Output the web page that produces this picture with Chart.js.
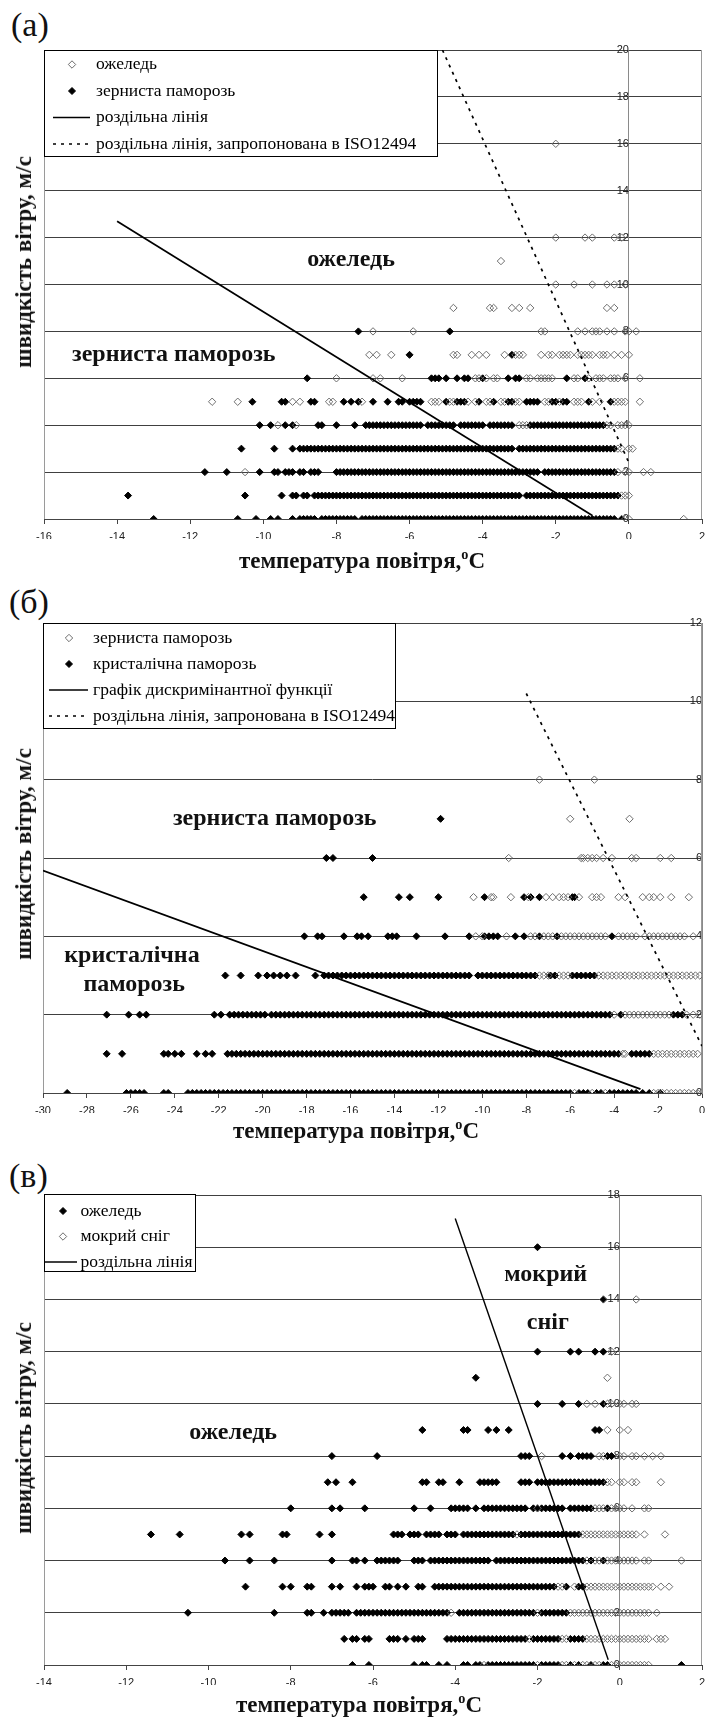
<!DOCTYPE html>
<html lang="uk">
<head>
<meta charset="UTF-8">
<title>Швидкість вітру та температура повітря</title>
<script src="https://cdn.jsdelivr.net/npm/chart.js"></script>
<style>
  body { margin: 0; background: #fff; }
  #page { position: relative; width: 707px; height: 1718px; overflow: hidden;
          font-family: 'Liberation Serif', 'Times New Roman', serif; color: #111; }
  canvas { position: absolute; left: 0; }
  .tag { position: absolute; font-size: 34px; line-height: 34px; }
  .xtitle { position: absolute; font-size: 23px; font-weight: bold; line-height: 26px;
            transform: translateX(-50%); white-space: nowrap; }
  .ytitle { position: absolute; left: 24px; font-size: 23px; font-weight: bold; line-height: 26px;
            transform: translate(-50%, -50%) rotate(-90deg); white-space: nowrap; }
  sup { font-size: 62%; line-height: 0; }
</style>
</head>
<body>
<div id="page">
  <div class="tag" style="left:11px; top:8px">(а)</div>
  <canvas id="chartA" width="707" height="580" style="top:0"></canvas>
  <div class="xtitle" style="left:362px; top:548px">температура повітря,<sup>o</sup>C</div>
  <div class="ytitle" style="top:262px">швидкість вітру, м/с</div>

  <div class="tag" style="left:9px; top:585px">(б)</div>
  <canvas id="chartB" width="707" height="570" style="top:580px"></canvas>
  <div class="xtitle" style="left:356px; top:1118px">температура повітря,<sup>o</sup>C</div>
  <div class="ytitle" style="top:854px">швидкість вітру, м/с</div>

  <div class="tag" style="left:9px; top:1159px">(в)</div>
  <canvas id="chartC" width="707" height="568" style="top:1150px"></canvas>
  <div class="xtitle" style="left:359px; top:1692px">температура повітря,<sup>o</sup>C</div>
  <div class="ytitle" style="top:1428px">швидкість вітру, м/с</div>
</div>

<script>
    // (а) ожеледь vs зерниста паморозь: temperatures observed at each wind speed
    const aSpeeds = [0, 1, 2, 3, 4, 5, 6, 7, 8, 9, 10, 11, 12, 13, 14, 15, 16];
    const aGlaze = [
        [-0.2, -0.1, 0, 1.5],
        [-0.2, -0.1, 0],
        [-10.5, -0.3, -0.1, 0, 0.4, 0.6],
        [-0.3, -0.2, 0, 0.1],
        [-9.6, -9.1, -3, -2.9, -2.8, -0.6, -0.5, -0.3, -0.2, -0.1, 0],
        [-11.4, -10.7, -9.2, -9, -8.2, -8.1, -7.3, -5.4, -5.3, -5.2, -4.9, -4.8, -4.4, -4.2, -3.9, -3.8, -3.5, -3.4, -3.1, -3, -2.3, -2.2, -1.9, -1.5, -1.4, -1.3, -1, -0.8, -0.4, -0.3, -0.2, -0.1, 0.3],
        [-8, -7, -6.8, -6.2, -4.2, -4.1, -3.9, -3.7, -3.6, -2.8, -2.7, -2.5, -2.4, -2.3, -2.2, -2.1, -1.5, -1.4, -1.1, -0.9, -0.8, -0.7, -0.5, -0.4, -0.3, -0.1, 0.3],
        [-7.1, -6.9, -6.5, -4.8, -4.7, -4.3, -4.1, -3.9, -3.4, -3.1, -3, -2.9, -2.4, -2.2, -2.1, -1.9, -1.8, -1.7, -1.6, -1.4, -1.3, -1.2, -1.1, -1, -0.8, -0.7, -0.6, -0.4, -0.2, 0],
        [-7, -5.9, -2.4, -2.3, -1.4, -1.2, -1, -0.9, -0.8, -0.6, -0.4, -0.1, 0, 0.2],
        [-4.8, -3.8, -3.7, -3.2, -3, -2.7, -0.6, -0.4],
        [-2, -1.5, -1, -0.6, -0.4, -0.1],
        [-3.5],
        [-2, -1.2, -1, -0.4, -0.2],
        [], [], [],
        [-2]
    ];
    const aRime = [
        [-13, -10.7, -10.2, -9.8, -9.6, -9.2, -9, -8.9, -8.8, -8.7, -8.6, -8.4, -8.3, -8.2, -8.1, -8, -7.9, -7.8, -7.7, -7.6, -7.5, -7.3, -7.2, -7.1, -7, -6.9, -6.8, -6.7, -6.6, -6.5, -6.4, -6.3, -6.2, -6.1, -6, -5.9, -5.8, -5.7, -5.6, -5.5, -5.4, -5.3, -5.2, -5.1, -5, -4.9, -4.8, -4.7, -4.6, -4.5, -4.4, -4.3, -4.2, -4.1, -4, -3.9, -3.8, -3.7, -3.6, -3.5, -3.4, -3.3, -3.2, -3.1, -3, -2.9, -2.8, -2.7, -2.6, -2.5, -2.4, -2.3, -2.2, -2.1, -2, -1.9, -1.8, -1.7, -1.6, -1.5, -1.4, -1.3, -1.2, -1.1, -1, -0.9, -0.8, -0.7, -0.6, -0.5, -0.4, -0.2],
        [-13.7, -10.5, -9.5, -9.2, -9.1, -8.9, -8.8, -8.6, -8.5, -8.4, -8.3, -8.2, -8.1, -8, -7.9, -7.8, -7.7, -7.6, -7.5, -7.4, -7.3, -7.2, -7.1, -7, -6.9, -6.8, -6.7, -6.6, -6.5, -6.4, -6.3, -6.2, -6.1, -6, -5.9, -5.8, -5.7, -5.6, -5.5, -5.4, -5.3, -5.2, -5.1, -5, -4.9, -4.8, -4.7, -4.6, -4.5, -4.4, -4.3, -4.2, -4.1, -4, -3.9, -3.8, -3.7, -3.6, -3.5, -3.4, -3.3, -3.2, -3.1, -3, -2.8, -2.7, -2.6, -2.5, -2.4, -2.3, -2.2, -2.1, -2, -1.9, -1.8, -1.7, -1.6, -1.5, -1.4, -1.3, -1.2, -1.1, -1, -0.9, -0.8, -0.7, -0.6, -0.5, -0.4, -0.3],
        [-11.6, -11, -10.1, -9.7, -9.6, -9.4, -9.3, -9.2, -9, -8.9, -8.7, -8.6, -8.5, -8, -7.9, -7.8, -7.7, -7.6, -7.5, -7.4, -7.3, -7.2, -7.1, -7, -6.9, -6.8, -6.7, -6.6, -6.5, -6.4, -6.3, -6.2, -6.1, -6, -5.9, -5.8, -5.7, -5.6, -5.5, -5.4, -5.3, -5.2, -5.1, -5, -4.9, -4.8, -4.7, -4.6, -4.5, -4.4, -4.3, -4.2, -4.1, -4, -3.9, -3.8, -3.7, -3.6, -3.5, -3.4, -3.3, -3.2, -3.1, -3, -2.9, -2.8, -2.7, -2.6, -2.5, -2.3, -2.2, -2.1, -2, -1.9, -1.8, -1.7, -1.6, -1.5, -1.4, -1.3, -1.2, -1.1, -1, -0.9, -0.8, -0.7, -0.6, -0.5, -0.4],
        [-10.6, -9.7, -9.2, -9, -8.9, -8.8, -8.7, -8.6, -8.5, -8.4, -8.3, -8.2, -8.1, -8, -7.9, -7.8, -7.7, -7.6, -7.5, -7.4, -7.3, -7.2, -7.1, -7, -6.9, -6.8, -6.7, -6.6, -6.5, -6.4, -6.3, -6.2, -6.1, -6, -5.9, -5.8, -5.7, -5.6, -5.5, -5.4, -5.3, -5.2, -5.1, -5, -4.9, -4.8, -4.7, -4.6, -4.5, -4.4, -4.3, -4.2, -4.1, -4, -3.9, -3.8, -3.7, -3.6, -3.5, -3.4, -3.3, -3.2, -3, -2.9, -2.8, -2.7, -2.6, -2.5, -2.4, -2.3, -2.2, -2.1, -2, -1.9, -1.8, -1.7, -1.6, -1.5, -1.4, -1.3, -1.2, -1.1, -1, -0.9, -0.8, -0.7, -0.6, -0.5, -0.4],
        [-10.1, -9.8, -9.4, -9.2, -8.5, -8.4, -8, -7.5, -7.2, -7.1, -7, -6.9, -6.8, -6.7, -6.6, -6.5, -6.4, -6.3, -6.2, -6.1, -6, -5.9, -5.8, -5.7, -5.5, -5.4, -5.3, -5.2, -5.1, -5, -4.9, -4.8, -4.6, -4.5, -4.4, -4.3, -4.2, -4.1, -4, -3.8, -3.7, -3.6, -3.5, -3.4, -3.3, -3.2, -2.7, -2.6, -2.5, -2.4, -2.3, -2.2, -2.1, -2, -1.9, -1.8, -1.7, -1.6, -1.5, -1.4, -1.3, -1.2, -1.1, -1, -0.9, -0.8, -0.7],
        [-10.3, -9.5, -9.4, -8.7, -8.6, -7.8, -7.6, -7.4, -7, -6.6, -6.3, -6.2, -6, -5.9, -5.8, -5.7, -5, -4.7, -4.6, -4.5, -4.1, -3.7, -3.3, -3.2, -2.8, -2.7, -2.6, -2.5, -2.1, -2, -1.8, -1.7, -1.1, -0.5],
        [-8.8, -5.4, -5.3, -5.2, -5, -4.7, -4.5, -4.4, -4, -3.3, -3.1, -3, -1.7, -1.2],
        [-6, -3.2],
        [-7.4, -4.9]
    ];
    const aSplitT = [-14, -1];
    const aSplitV = [12.7, 0.15];
    const aIsoT = [-5.1, 0];
    const aIsoV = [20, 2.4];

    // (б) зерниста vs кристалічна паморозь
    const bSpeeds = [0, 1, 2, 3, 4, 5, 6, 7, 8];
    const bGranular = [
        [-5.8, -5, -4.4, -2.2, -2, -1.8, -1.6, -1.4, -1.2, -1, -0.8, -0.6, -0.4, -0.2, 0],
        [-3.6, -3.5, -2.2, -2, -1.8, -1.6, -1.4, -1.2, -1, -0.8, -0.6, -0.4, -0.2],
        [-4, -3.5, -3.3, -3.1, -2.9, -2.7, -2.5, -2.3, -2.1, -1.9, -1.7, -1.5, -0.7, -0.4, -0.1],
        [-7.4, -7.2, -7, -6.5, -6.3, -6.1, -4.7, -4.5, -4.3, -4.1, -3.9, -3.7, -3.5, -3.3, -3.1, -2.9, -2.7, -2.5, -2.3, -2.1, -1.9, -1.7, -1.5, -1.3, -1.1, -0.9, -0.7, -0.5, -0.3, -0.1],
        [-10.3, -10, -8.9, -7.8, -7.6, -7.2, -7, -6.8, -6.4, -6.2, -6, -5.8, -5.6, -5.4, -5.2, -5, -4.8, -4.6, -4.4, -3.8, -3.6, -3.4, -3.2, -3, -2.6, -2.4, -2.2, -2, -1.8, -1.6, -1.4, -1.2, -1, -0.8, -0.4],
        [-10.4, -9.6, -9.5, -8.7, -7.9, -7.1, -6.8, -6.5, -6.3, -6.1, -5.6, -5, -4.8, -4.6, -3.8, -3.5, -2.7, -2.4, -2.2, -1.9, -1.4, -0.6],
        [-8.8, -5.5, -5.4, -5.2, -5, -4.8, -4.5, -4.1, -3.2, -3, -1.9, -1.4],
        [-6, -3.3],
        [-7.4, -4.9]
    ];
    const bCrystal = [
        [-28.9, -26.2, -26, -25.8, -25.6, -25.4, -24.5, -24.3, -23.4, -23.2, -23, -22.8, -22.6, -22.4, -22.2, -22, -21.8, -21.6, -21.4, -21.2, -21, -20.8, -20.6, -20.4, -20.2, -20, -19.8, -19.6, -19.4, -19.2, -19, -18.8, -18.6, -18.4, -18.2, -18, -17.8, -17.6, -17.4, -17.2, -17, -16.8, -16.6, -16.4, -16.2, -16, -15.8, -15.6, -15.4, -15.2, -15, -14.8, -14.6, -14.4, -14.2, -14, -13.8, -13.6, -13.4, -13.2, -13, -12.8, -12.6, -12.4, -12.2, -12, -11.8, -11.6, -11.4, -11.2, -11, -10.8, -10.6, -10.4, -10.2, -10, -9.8, -9.6, -9.4, -9.2, -9, -8.8, -8.6, -8.4, -8.2, -8, -7.8, -7.6, -7.4, -7.2, -7, -6.8, -6.6, -6.4, -6.2, -6, -5.6, -5.4, -5.2, -4.8, -4.6, -4.2, -4, -3.8, -3.6, -3.4, -3.2, -3, -2.7, -2.4, -1.9],
        [-27.1, -26.4, -24.5, -24.3, -24, -23.7, -23, -22.6, -22.3, -21.6, -21.4, -21.2, -21, -20.8, -20.6, -20.4, -20.2, -20, -19.8, -19.6, -19.4, -19.2, -19, -18.8, -18.6, -18.4, -18.2, -18, -17.8, -17.6, -17.4, -17.2, -17, -16.8, -16.6, -16.4, -16.2, -16, -15.8, -15.6, -15.4, -15.2, -15, -14.8, -14.6, -14.4, -14.2, -14, -13.8, -13.6, -13.4, -13.2, -13, -12.8, -12.6, -12.4, -12.2, -12, -11.8, -11.6, -11.4, -11.2, -11, -10.8, -10.6, -10.4, -10.2, -10, -9.8, -9.6, -9.4, -9.2, -9, -8.8, -8.6, -8.4, -8.2, -8, -7.8, -7.6, -7.4, -7.2, -7, -6.8, -6.6, -6.4, -6.2, -6, -5.8, -5.6, -5.4, -5.2, -5, -4.8, -4.6, -4.4, -4.2, -4, -3.8, -3.2, -3, -2.8, -2.6, -2.4],
        [-27.1, -26.1, -25.6, -25.3, -22.2, -21.9, -21.5, -21.3, -21.1, -20.9, -20.7, -20.5, -20.3, -20.1, -19.9, -19.6, -19.4, -19.2, -19, -18.8, -18.6, -18.4, -18.2, -18, -17.8, -17.6, -17.4, -17.2, -17, -16.8, -16.6, -16.4, -16.2, -16, -15.8, -15.6, -15.4, -15.2, -15, -14.8, -14.6, -14.4, -14.2, -14, -13.8, -13.6, -13.4, -13.2, -13, -12.8, -12.6, -12.4, -12.2, -12, -11.8, -11.6, -11.4, -11.2, -11, -10.8, -10.6, -10.4, -10.2, -10, -9.8, -9.6, -9.4, -9.2, -9, -8.8, -8.6, -8.4, -8.2, -8, -7.8, -7.6, -7.4, -7.2, -7, -6.8, -6.6, -6.4, -6.2, -6, -5.8, -5.6, -5.4, -5.2, -5, -4.8, -4.6, -4.4, -4.2, -3.7, -1.3, -1.1, -0.9],
        [-21.7, -21, -20.2, -19.8, -19.5, -19.2, -18.9, -18.5, -17.6, -17.2, -17, -16.8, -16.6, -16.4, -16.2, -16, -15.8, -15.6, -15.4, -15.2, -15, -14.8, -14.6, -14.4, -14.2, -14, -13.8, -13.6, -13.4, -13.2, -13, -12.8, -12.6, -12.4, -12.2, -12, -11.8, -11.6, -11.4, -11.2, -11, -10.8, -10.6, -10.2, -10, -9.8, -9.6, -9.4, -9.2, -9, -8.8, -8.6, -8.4, -8.2, -8, -7.8, -7.6, -6.9, -6.7, -5.9, -5.7, -5.5, -5.3, -5.1, -4.9],
        [-18.1, -17.5, -17.3, -16.3, -15.7, -15.5, -15.2, -14.3, -14.1, -13.9, -13, -11.7, -10.6, -9.9, -9.7, -9.5, -9.3, -8.5, -8.1, -7.4, -6.6, -4.1],
        [-15.4, -13.8, -13.3, -12, -9.9, -8.1, -7.8, -7.4, -5.9, -5.8],
        [-17.1, -16.8, -15],
        [-11.9],
        []
    ];
    const bDiscrT = [-30, -2.8];
    const bDiscrV = [5.68, 0.1];
    const bIsoT = [-8, 0];
    const bIsoV = [10.2, 1.2];

    // (в) ожеледь vs мокрий сніг
    const cSpeeds = [0, 1, 2, 3, 4, 5, 6, 7, 8, 9, 10, 11, 12, 13, 14, 15, 16];
    const cGlaze = [
        [-6.5, -6.1, -5, -4.8, -4.7, -4.4, -4.2, -3.8, -3.7, -3.5, -3.4, -3.2, -3.1, -3, -2.9, -2.8, -2.7, -2.6, -2.5, -2.4, -2.3, -2.2, -2.1, -1.9, -1.8, -1.7, -1.6, -1.5, -1.2, -1, -0.7, -0.4, -0.3, 1.5],
        [-6.7, -6.5, -6.4, -6.2, -6.1, -5.6, -5.5, -5.4, -5.2, -5, -4.9, -4.8, -4.2, -4.1, -4, -3.9, -3.8, -3.7, -3.6, -3.5, -3.4, -3.3, -3.2, -3.1, -3, -2.9, -2.8, -2.7, -2.6, -2.5, -2.4, -2.3, -2.1, -2, -1.9, -1.8, -1.7, -1.6, -1.5, -1.2, -1.1, -1, -0.9],
        [-10.5, -8.4, -7.6, -7.5, -7.2, -7, -6.9, -6.8, -6.7, -6.6, -6.4, -6.3, -6.2, -6.1, -6, -5.9, -5.8, -5.7, -5.6, -5.5, -5.4, -5.3, -5.2, -5.1, -5, -4.9, -4.8, -4.7, -4.6, -4.5, -4.4, -4.3, -4.2, -3.9, -3.8, -3.7, -3.6, -3.5, -3.4, -3.3, -3.2, -3.1, -3, -2.9, -2.8, -2.7, -2.6, -2.5, -2.4, -2.3, -2.2, -2.1, -1.9, -1.8, -1.7, -1.6, -1.5, -1.4, -1.3],
        [-9.1, -8.2, -8, -7.6, -7.5, -7, -6.8, -6.4, -6.2, -6.1, -6, -5.7, -5.6, -5.4, -5.2, -4.9, -4.8, -4.5, -4.4, -4.3, -4.2, -4.1, -4, -3.9, -3.8, -3.7, -3.6, -3.5, -3.4, -3.3, -3.2, -3.1, -3, -2.9, -2.8, -2.7, -2.6, -2.5, -2.4, -2.3, -2.2, -2.1, -2, -1.9, -1.8, -1.7, -1.6, -1.3, -1, -0.9],
        [-9.6, -9, -8.4, -7, -6.5, -6.4, -6.2, -5.9, -5.8, -5.7, -5.6, -5.5, -5.4, -5, -4.9, -4.8, -4.6, -4.5, -4.4, -4.3, -4.2, -4.1, -4, -3.9, -3.8, -3.7, -3.6, -3.5, -3.4, -3.3, -3.2, -3, -2.9, -2.8, -2.7, -2.6, -2.5, -2.4, -2.3, -2.2, -2.1, -2, -1.9, -1.8, -1.7, -1.6, -1.5, -1.4, -1.3, -1.2, -1.1, -1, -0.9, -0.7, -0.4],
        [-11.4, -10.7, -9.2, -9, -8.2, -8.1, -7.3, -7, -5.5, -5.4, -5.3, -5.1, -5, -4.9, -4.7, -4.6, -4.5, -4.4, -4.2, -4.1, -4, -3.8, -3.7, -3.6, -3.5, -3.4, -3.3, -3.2, -3.1, -3, -2.9, -2.8, -2.7, -2.6, -2.4, -2.3, -2.2, -2.1, -2, -1.9, -1.8, -1.7, -1.6, -1.5, -1.4, -1.3, -1.2, -1.1, -1],
        [-8, -7, -6.8, -6.2, -5, -4.6, -4.1, -4, -3.9, -3.8, -3.7, -3.5, -3.3, -3.2, -3.1, -3, -2.9, -2.8, -2.7, -2.6, -2.5, -2.4, -2.3, -2.1, -2, -1.9, -1.8, -1.7, -1.6, -1.5, -1.4, -1.2, -1.1, -1, -0.9, -0.8, -0.7, -0.3],
        [-7.1, -6.9, -6.5, -4.8, -4.7, -4.4, -4.3, -3.9, -3.4, -3.3, -3.2, -3.1, -3, -2.4, -2.3, -2.2, -2, -1.9, -1.8, -1.7, -1.6, -1.5, -1.4, -1.3, -1.2, -1.1, -1, -0.9, -0.8, -0.7, -0.6, -0.5, -0.4],
        [-7, -5.9, -2.4, -2.3, -2.2, -1.4, -1.2, -1, -0.9, -0.8, -0.7, -0.3, -0.2],
        [-4.8, -3.8, -3.7, -3.2, -3, -2.7, -0.6, -0.5],
        [-2, -1.4, -1, -0.4],
        [-3.5],
        [-2, -1.2, -1, -0.6, -0.4],
        [],
        [-0.4],
        [],
        [-2]
    ];
    const cWetSnow = [
        [-3.3, -2, -1.4, -1.3, -1.1, -0.9, -0.8, -0.6, -0.5, -0.2, -0.1, 0, 0.1, 0.2, 0.3, 0.4, 0.5, 0.6, 0.7],
        [-2.2, -1.4, -1.3, -0.8, -0.7, -0.6, -0.5, -0.4, -0.3, -0.2, -0.1, 0, 0.1, 0.2, 0.3, 0.4, 0.5, 0.6, 0.7, 0.9, 1, 1.1],
        [-4.1, -2, -1.2, -1.1, -1, -0.9, -0.8, -0.7, -0.6, -0.5, -0.4, -0.3, -0.2, -0.1, 0, 0.1, 0.2, 0.3, 0.4, 0.5, 0.6, 0.7, 0.9],
        [-1.5, -1.4, -1.1, -0.8, -0.7, -0.6, -0.5, -0.4, -0.3, -0.2, -0.1, 0, 0.1, 0.2, 0.3, 0.4, 0.5, 0.6, 0.7, 0.8, 1, 1.2],
        [-0.8, -0.6, -0.5, -0.3, -0.2, -0.1, 0, 0.1, 0.2, 0.3, 0.4, 0.6, 0.7, 1.5],
        [-2.5, -0.9, -0.8, -0.7, -0.6, -0.5, -0.4, -0.3, -0.2, -0.1, 0, 0.1, 0.2, 0.3, 0.4, 0.6, 1.1],
        [-2, -0.6, -0.5, -0.4, -0.2, -0.1, 0, 0.1, 0.3, 0.6, 0.7],
        [-0.3, -0.2, 0, 0.1, 0.3, 0.4, 1],
        [-1.9, -0.5, -0.4, 0, 0.1, 0.3, 0.4, 0.6, 0.8, 1],
        [-0.3, 0, 0.2],
        [-0.8, -0.6, -0.3, -0.2, 0, 0.1, 0.3, 0.4],
        [-0.3],
        [-0.2],
        [],
        [-0.4, 0.4]
    ];
    const cSplitT = [-4, -0.28];
    const cSplitV = [17.1, 0.2];

    // ---------- helpers ----------
    function toPoints(rows, speeds) {
        const pts = [];
        rows.forEach((temps, i) => temps.forEach(t => pts.push({ x: t, y: speeds[i] })));
        return pts;
    }
    function toLine(ts, vs) {
        return ts.map((t, i) => ({ x: t, y: vs[i] }));
    }
    function openSet(label, data) {
        return { label, data, pointStyle: 'rectRot', pointRadius: 3.7, pointBorderWidth: 1,
                 pointBorderColor: '#6e6e6e', pointBackgroundColor: 'rgba(0,0,0,0)', order: 2 };
    }
    function filledSet(label, data) {
        return { label, data, pointStyle: 'rectRot', pointRadius: 3.5, pointBorderWidth: 1,
                 pointBorderColor: '#000', pointBackgroundColor: '#000', order: 3 };
    }
    function lineSet(label, data, dash, width) {
        return { label, data, showLine: true, pointRadius: 0, borderColor: '#000',
                 borderWidth: width, borderDash: dash, fill: false, order: 1 };
    }

    const frame = {
        id: 'frame',
        beforeDatasetsDraw(chart) {
            const { ctx, chartArea: a } = chart;
            ctx.save();
            ctx.strokeStyle = '#9a9a9a';
            ctx.lineWidth = 1;
            ctx.beginPath();
            ctx.moveTo(Math.round(a.left) + 0.5, a.top);
            ctx.lineTo(Math.round(a.left) + 0.5, a.bottom);
            ctx.moveTo(Math.round(a.right) - 0.5, a.top);
            ctx.lineTo(Math.round(a.right) - 0.5, a.bottom);
            ctx.stroke();
            ctx.restore();
        }
    };

    function notesPlugin(notes) {
        return {
            id: 'notes',
            afterDatasetsDraw(chart) {
                const { ctx, scales } = chart;
                ctx.save();
                ctx.font = 'bold 24px "Liberation Serif", serif';
                ctx.fillStyle = '#111';
                ctx.textAlign = 'center';
                ctx.textBaseline = 'middle';
                notes.forEach(n => ctx.fillText(n.text, scales.x.getPixelForValue(n.x), scales.y.getPixelForValue(n.y)));
                ctx.restore();
            }
        };
    }

    function legendPlugin(box) {
        return {
            id: 'boxLegend',
            afterDraw(chart) {
                const ctx = chart.ctx;
                ctx.save();
                ctx.fillStyle = '#fff';
                ctx.fillRect(box.left, box.top, box.width, box.height);
                ctx.strokeStyle = '#000';
                ctx.lineWidth = 1;
                ctx.strokeRect(box.left + 0.5, box.top + 0.5, box.width - 1, box.height - 1);
                ctx.font = '17.5px "Liberation Serif", serif';
                ctx.textBaseline = 'middle';
                chart.data.datasets.forEach((ds, i) => {
                    const y = box.top + box.first + i * box.step;
                    if (ds.showLine) {
                        ctx.beginPath();
                        ctx.setLineDash(ds.borderDash);
                        ctx.strokeStyle = ds.borderColor;
                        ctx.lineWidth = ds.borderWidth;
                        ctx.moveTo(box.left + box.lineFrom, y);
                        ctx.lineTo(box.left + box.lineTo, y);
                        ctx.stroke();
                        ctx.setLineDash([]);
                    } else {
                        const x = box.left + box.mark, r = ds.pointRadius;
                        ctx.beginPath();
                        ctx.moveTo(x, y - r);
                        ctx.lineTo(x + r, y);
                        ctx.lineTo(x, y + r);
                        ctx.lineTo(x - r, y);
                        ctx.closePath();
                        ctx.fillStyle = ds.pointBackgroundColor;
                        ctx.fill();
                        ctx.strokeStyle = ds.pointBorderColor;
                        ctx.lineWidth = 1;
                        ctx.stroke();
                    }
                    ctx.fillStyle = '#000';
                    ctx.fillText(ds.label, box.left + box.text, y);
                });
                ctx.restore();
            }
        };
    }

    const tickFont = { family: "'Liberation Sans', Arial, sans-serif", size: 11 };

    function drawPanel(id, datasets, xMin, xMax, yMax, padding, box, notes) {
        new Chart(document.getElementById(id), {
            type: 'scatter',
            data: { datasets },
            options: {
                responsive: false,
                animation: false,
                events: [],
                layout: { padding },
                plugins: { legend: { display: false }, tooltip: { enabled: false } },
                scales: {
                    x: {
                        type: 'linear', min: xMin, max: xMax,
                        ticks: { stepSize: 2, autoSkip: false, maxRotation: 0, padding: 6, color: '#222', font: tickFont },
                        grid: { drawOnChartArea: false, drawTicks: true, tickLength: 5, color: '#444' },
                        border: { display: true, color: '#444' },
                        afterFit(s) { s.height = 20; s.paddingLeft = 0; s.paddingRight = 0; }
                    },
                    y: {
                        type: 'linear', min: 0, max: yMax, position: { x: 0 },
                        ticks: { stepSize: 2, padding: 3, color: '#222', font: tickFont },
                        grid: { color: '#404040', tickLength: 5 },
                        border: { display: true, color: '#8a8a8a' }
                    }
                }
            },
            plugins: [frame, notesPlugin(notes), legendPlugin(box)]
        });
    }

    drawPanel('chartA', [
        openSet('ожеледь', toPoints(aGlaze, aSpeeds)),
        filledSet('зерниста паморозь', toPoints(aRime, aSpeeds)),
        lineSet('роздільна лінія', toLine(aSplitT, aSplitV), [], 1.7),
        lineSet('роздільна лінія, запропонована в ISO12494', toLine(aIsoT, aIsoV), [3, 5], 1.7)
    ], -16, 2, 20,
    { left: 44, right: 3, top: 50, bottom: 41 },
    { left: 44, top: 50, width: 394, height: 107, first: 14.5, step: 26.5, mark: 28, lineFrom: 9, lineTo: 46, text: 52 },
    [{ text: 'ожеледь', x: -7.6, y: 11.05 }, { text: 'зерниста паморозь', x: -12.45, y: 7 }]);

    drawPanel('chartB', [
        openSet('зерниста паморозь', toPoints(bGranular, bSpeeds)),
        filledSet('кристалічна паморозь', toPoints(bCrystal, bSpeeds)),
        lineSet('графік дискримінантної функції', toLine(bDiscrT, bDiscrV), [], 1.7),
        lineSet('роздільна лінія, запронована в ISO12494', toLine(bIsoT, bIsoV), [3, 5], 1.7)
    ], -30, 0, 12,
    { left: 43, right: 4, top: 43, bottom: 37 },
    { left: 43, top: 43, width: 353, height: 106, first: 15, step: 26, mark: 26, lineFrom: 6, lineTo: 45, text: 50 },
    [{ text: 'зерниста паморозь', x: -19.45, y: 7 }, { text: 'кристалічна', x: -25.95, y: 3.5 },
     { text: 'паморозь', x: -25.85, y: 2.75 }]);

    drawPanel('chartC', [
        filledSet('ожеледь', toPoints(cGlaze, cSpeeds)),
        openSet('мокрий сніг', toPoints(cWetSnow, cSpeeds)),
        lineSet('роздільна лінія', toLine(cSplitT, cSplitV), [], 1.4)
    ], -14, 2, 18,
    { left: 44, right: 1, top: 45, bottom: 33 },
    { left: 44, top: 44, width: 152, height: 78, first: 17, step: 25.5, mark: 19, lineFrom: 0, lineTo: 33, text: 36.5 },
    [{ text: 'мокрий', x: -1.8, y: 14.95 }, { text: 'сніг', x: -1.75, y: 13.1 }, { text: 'ожеледь', x: -9.4, y: 8.9 }]);
</script>
</body>
</html>
